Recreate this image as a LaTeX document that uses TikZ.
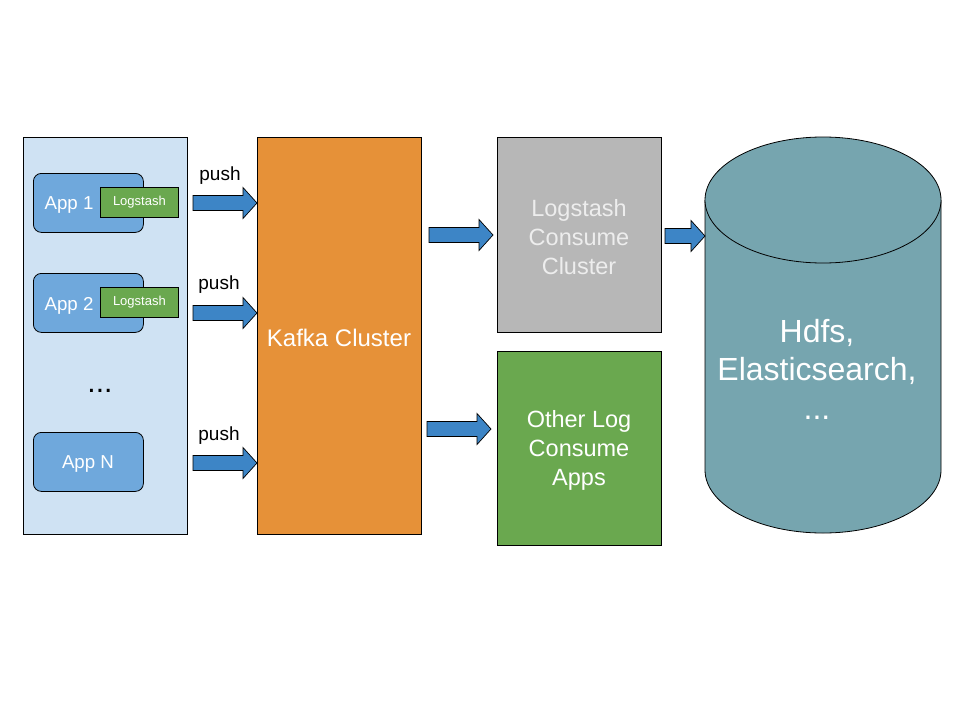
\documentclass[tikz,border=0pt]{standalone}
\usepackage{fontspec}
\setmainfont{Liberation Sans}
\definecolor{panelblue}{HTML}{CFE2F3}
\definecolor{appblue}{HTML}{6FA8DC}
\definecolor{lsgreen}{HTML}{6AA84F}
\definecolor{kafkaor}{HTML}{E69138}
\definecolor{grayc}{HTML}{B7B7B7}
\definecolor{cylc}{HTML}{76A5AF}
\definecolor{arrowb}{HTML}{3D85C6}
\newcommand\blockarrow[3]{%
  \draw[barrow] (#1,#3-7.5) -- (#2-14,#3-7.5) -- (#2-14,#3-15.5) -- (#2,#3) -- (#2-14,#3+15.5) -- (#2-14,#3+7.5) -- (#1,#3+7.5) -- cycle;}
\begin{document}
\begin{tikzpicture}[x=1pt,y=-1pt,
  boxx/.style={draw=black,line width=0.8pt,anchor=north west,inner sep=0pt},
  appbox/.style={draw=black,line width=0.8pt,fill=appblue,rounded corners=8pt,anchor=north west,inner sep=0pt,minimum width=110pt,minimum height=59pt},
  lsbox/.style={draw=black,line width=0.8pt,fill=lsgreen,anchor=north west,inner sep=0pt,minimum width=78pt,minimum height=30pt,text=white,font=\fontsize{13}{15}\selectfont},
  wtext/.style={text=white,font=\fontsize{18.7}{22}\selectfont},
  bigtext/.style={text=white,align=center,font=\fontsize{23.5}{29}\selectfont},
  pushlbl/.style={font=\fontsize{19}{22}\selectfont,text=black},
  barrow/.style={draw=black,line width=0.7pt,fill=arrowb,line join=miter}]
\useasboundingbox (0,0) rectangle (960,720);
\fill[white] (0,0) rectangle (960,720);
% left panel
\node[boxx,fill=panelblue,minimum width=164pt,minimum height=397pt] (panel) at (23,137) {};
\node[appbox] (app1) at (33,173) {};
\node[wtext] (app1t) at (69,205.5) {App 1};
\node[lsbox] (ls1) at (100,187) {\raisebox{-1.5pt}{Logstash}};
\node[appbox] (app2) at (33,273) {};
\node[wtext] (app2t) at (69,306) {App 2};
\node[lsbox] (ls2) at (100,287) {\raisebox{-1.5pt}{Logstash}};
\node[font=\fontsize{30}{30}\selectfont] (dots) at (100,391) {...};
\node[appbox] (appn) at (33,432) {};
\node[wtext] (appnt) at (88,464) {App N};
% kafka
\node[boxx,fill=kafkaor,minimum width=164pt,minimum height=397pt] (kafka) at (257,137) {};
\node[text=white,font=\fontsize{24}{28}\selectfont] (kafkat) at (339,338) {Kafka Cluster};
% consumers
\node[boxx,fill=grayc,minimum width=164pt,minimum height=195pt] (lcc) at (497,137) {};
\node[bigtext,text=white!93!black] (lcct) at (579,237) {Logstash\\Consume\\Cluster};
\node[boxx,fill=lsgreen,minimum width=164pt,minimum height=194pt] (olc) at (497,351) {};
\node[bigtext] (olct) at (579,450) {Other Log\\Consume\\Apps};
% cylinder
\fill[cylc] (705,200) -- (705,470) arc[start angle=180,end angle=360,x radius=118,y radius=-63] -- (941,200) -- cycle;
\draw[black,line width=0.8pt] (705,200) -- (705,470) arc[start angle=180,end angle=360,x radius=118,y radius=-63] -- (941,200);
\draw[black,line width=0.8pt,fill=cylc] (823,200) ellipse[x radius=118,y radius=63];
\node[text=white,align=center,font=\fontsize{32}{38.5}\selectfont] (store) at (817,369) {Hdfs,\\Elasticsearch,\\...};
% arrows
\blockarrow{193}{257}{203}
\node[pushlbl] (p1) at (220,176) {push};
\blockarrow{193}{257}{313}
\node[pushlbl] (p2) at (219,285) {push};
\blockarrow{193}{257}{463}
\node[pushlbl] (p3) at (219,436) {push};
\blockarrow{429}{493}{235}
\blockarrow{427}{491}{429}
\blockarrow{665}{705}{236}
\end{tikzpicture}
\end{document}
